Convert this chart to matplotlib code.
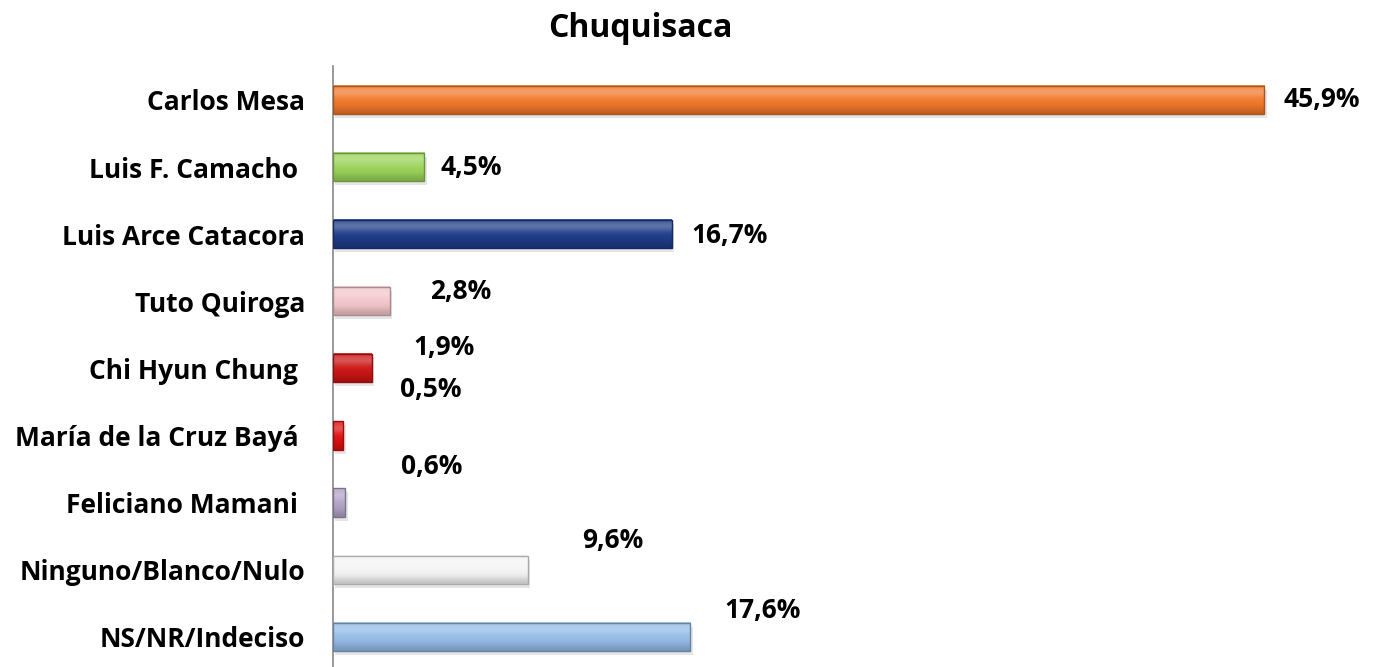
import numpy as np
import matplotlib
matplotlib.use('Agg')
from matplotlib import pyplot as plt
from matplotlib import colors as mcolors

plt.rcParams['font.family'] = ['Open Sans', 'DejaVu Sans']

# data
candidates = ['Carlos Mesa', 'Luis F. Camacho ', 'Luis Arce Catacora', 'Tuto Quiroga',
              'Chi Hyun Chung ', 'María de la Cruz Bayá ', 'Feliciano Mamani ',
              'Ninguno/Blanco/Nulo', 'NS/NR/Indeciso']
values = [45.9, 4.5, 16.7, 2.8, 1.9, 0.5, 0.6, 9.6, 17.6]
value_labels = ['45,9%', '4,5%', '16,7%', '2,8%', '1,9%', '0,5%', '0,6%', '9,6%', '17,6%']
bar_colors = ['#F0782A', '#9BD35A', '#1F3C88', '#F2C6CA', '#CC1515', '#DD1111',
              '#B3A2C7', '#F4F4F4', '#95BBE6']
# label offsets (points) from bar end, labels were moved by hand in the original
label_offsets = [(14, 0), (12, 0), (14, -1), (29, 7), (30, 15), (41, 33), (40, 26), (39, 21), (25, 19)]

fig = plt.figure(figsize=(13.73, 6.67), dpi=100)
ax = fig.add_axes([0.2425, -0.005, 0.739, 0.9055])

y = np.arange(len(candidates))
h = 0.42

def shade(c, f):
    r = np.array(mcolors.to_rgb(c))
    if f > 0:
        return r + (1 - r) * f
    return r * (1 + f)

# shadow
ax.barh(y + 0.06, values, height=h, left=0.12, color='#000000', alpha=0.10, zorder=1)
for i, (v, c) in enumerate(zip(values, bar_colors)):
    # vertical gradient for the bevelled look: light top, base middle, darker bottom
    stops = [shade(c, 0.15), shade(c, 0.35), shade(c, 0.1), shade(c, 0.0), shade(c, -0.05), shade(c, -0.2)]
    grad = np.array(stops).reshape(len(stops), 1, 3)
    ax.imshow(grad, extent=(0, v, y[i] - h / 2, y[i] + h / 2), aspect='auto',
              interpolation='bicubic', zorder=2, origin='lower')
    ax.barh(y[i], v, height=h, facecolor='none', edgecolor=shade(c, -0.3), linewidth=1.0, zorder=3)
    ax.annotate(value_labels[i], xy=(v, y[i]), xytext=label_offsets[i],
                textcoords='offset points', ha='left', va='center',
                fontsize=19, fontweight='bold', color='black', zorder=4)

ax.set_ylim(len(candidates) - 0.5, -0.5)
ax.set_xlim(0, 50)
ax.set_yticks(y)
ax.set_yticklabels(candidates, fontsize=19, fontweight='bold')
ax.tick_params(axis='y', length=0, pad=20)
ax.set_xticks([])
for s in ['top', 'right', 'bottom']:
    ax.spines[s].set_visible(False)
ax.spines['left'].set_color('#888888')
ax.spines['left'].set_linewidth(1.2)

fig.text(0.466, 0.958, 'Chuquisaca', ha='center', va='center', fontsize=23, fontweight='bold')

fig.savefig('out.png', dpi=100)
